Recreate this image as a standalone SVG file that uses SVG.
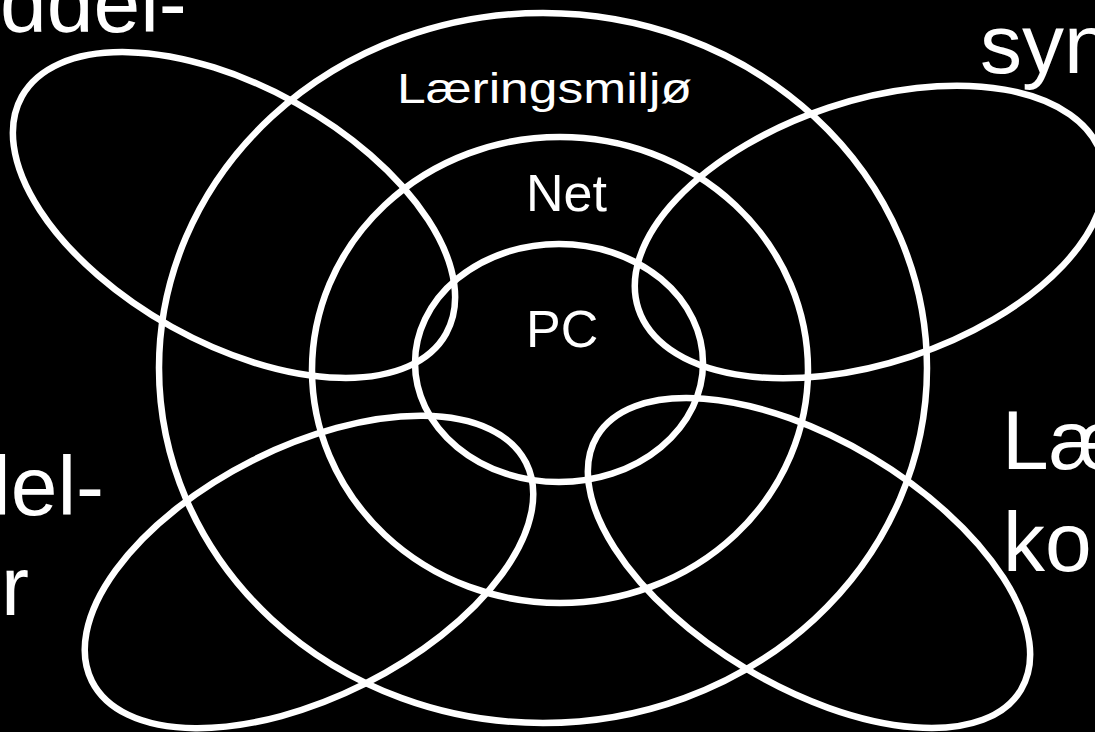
<svg xmlns="http://www.w3.org/2000/svg" width="1095" height="732" viewBox="0 0 1095 732">
<style>
.ring{fill:none;stroke:#fff;stroke-width:6.5}
.big{font-family:"Liberation Sans",Arial,sans-serif;font-size:84px;fill:#fff}
.mid{font-family:"Liberation Sans",Arial,sans-serif;font-size:52px;fill:#fff}
.small{font-family:"Liberation Sans",Arial,sans-serif;font-size:42px;fill:#fff}
</style>
<rect x="0" y="0" width="1095" height="732" fill="#000"/>
<g id="outer-ring">
<ellipse class="ring" cx="543" cy="368" rx="384" ry="355"/>
<text class="small" x="397" y="103" textLength="295" lengthAdjust="spacingAndGlyphs">Læringsmiljø</text>
</g>
<g id="middle-ring">
<ellipse class="ring" cx="560" cy="370" rx="248" ry="233"/>
<text class="mid" x="526" y="211">Net</text>
</g>
<g id="inner-ring">
<ellipse class="ring" cx="559" cy="363" rx="144" ry="119"/>
<text class="mid" x="526" y="347">PC</text>
</g>
<g id="top-left-ellipse">
<ellipse class="ring" cx="0" cy="0" rx="243" ry="128" transform="translate(234 215) rotate(29.2)"/>
<text class="big" x="0" y="32">ddel-</text>
</g>
<g id="top-right-ellipse">
<ellipse class="ring" cx="0" cy="0" rx="244" ry="131" transform="translate(870 232) rotate(-18.4)"/>
<text class="big" x="980" y="73">syn</text>
</g>
<g id="bottom-left-ellipse">
<ellipse class="ring" cx="0" cy="0" rx="243" ry="125" transform="translate(309 572) rotate(-26.7)"/>
<text class="big" x="-8" y="515">lel-</text>
<text class="big" x="1" y="615">r</text>
</g>
<g id="bottom-right-ellipse">
<ellipse class="ring" cx="0" cy="0" rx="247" ry="123" transform="translate(809 563) rotate(30.9)"/>
<text class="big" x="1002" y="469">Læ</text>
<text class="big" x="1003" y="571">ko</text>
</g>
<g id="connectors"/>
</svg>
